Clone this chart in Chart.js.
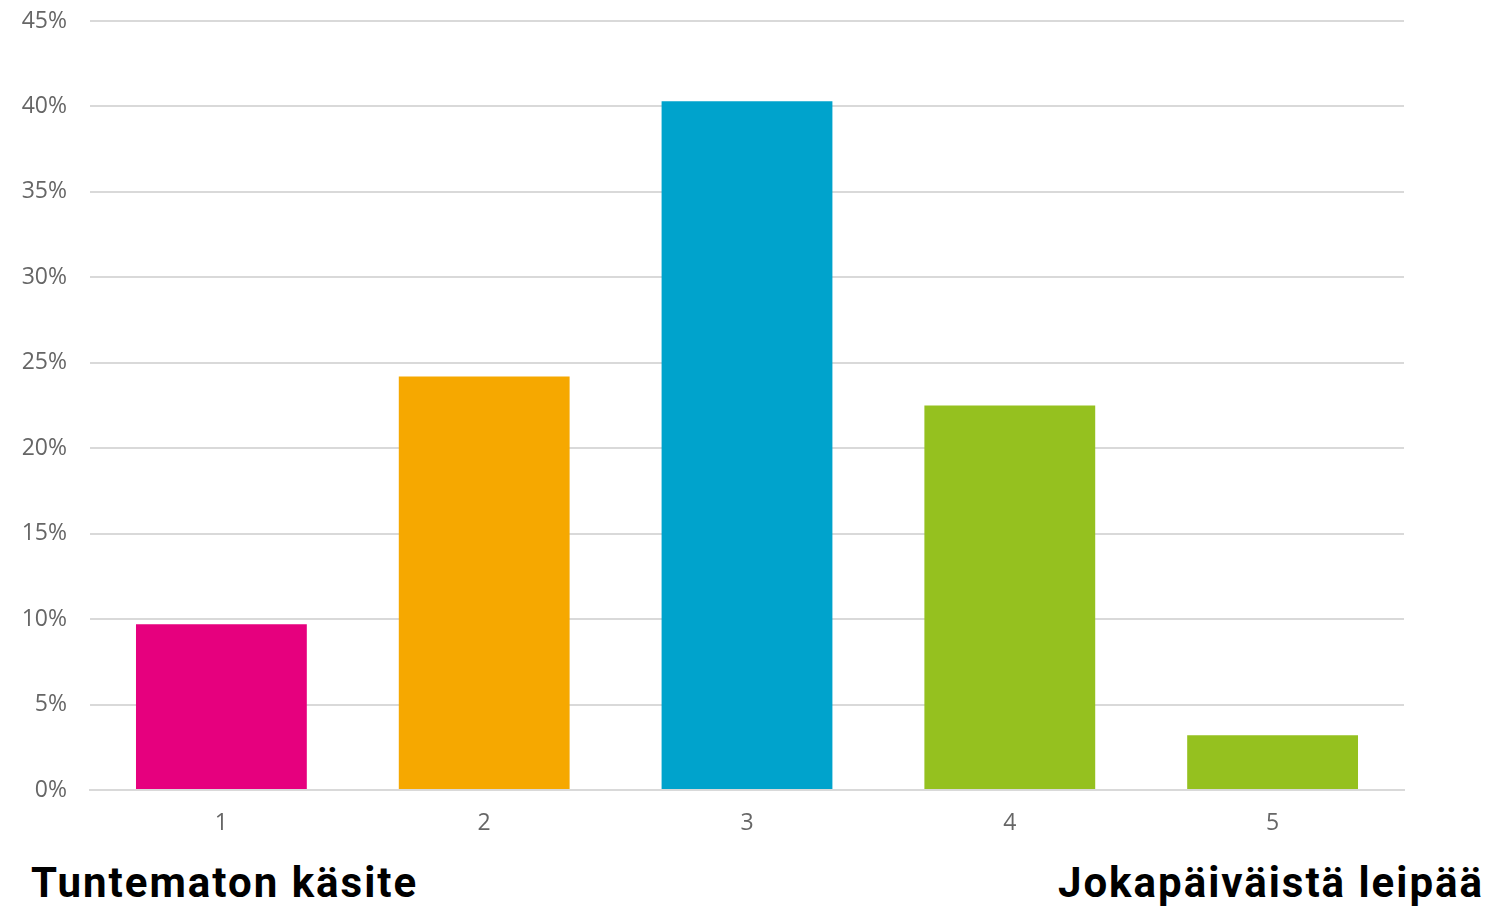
<!DOCTYPE html>
<html>
<head>
<meta charset="utf-8">
<script src="https://cdn.jsdelivr.net/npm/chart.js@4"></script>
<style>
  html, body { margin: 0; padding: 0; background: #fff; }
  #wrap { position: relative; width: 1488px; height: 906px; }
  #chart { position: absolute; left: 0; top: 0; }
  .end { position: absolute; top: 858px; font-family: Roboto, sans-serif; font-weight: 700; font-size: 42px; letter-spacing: 2px; color: #000; white-space: nowrap; }
  #left { left: 31px; }
  #right { right: 4px; }
</style>
</head>
<body>
<div id="wrap">
  <canvas id="chart" width="1488" height="850"></canvas>
  <div class="end" id="left">Tuntematon käsite</div>
  <div class="end" id="right">Jokapäiväistä leipää</div>
</div>
<script>
// scale 1..5, share of answers (%)
const categories = ["1", "2", "3", "4", "5"];
const shares = [9.7, 24.2, 40.3, 22.5, 3.2];
const barColors = ["#E6007E", "#F6A800", "#00A3CC", "#95C11F", "#95C11F"];
const yTicks = [0, 5, 10, 15, 20, 25, 30, 35, 40, 45];

const tickFont = { family: "Open Sans", size: 23, weight: 400 };

new Chart(document.getElementById("chart"), {
  type: "bar",
  data: {
    labels: categories,
    datasets: [{
      data: shares,
      backgroundColor: barColors,
      barPercentage: 0.65,
      categoryPercentage: 1
    }]
  },
  options: {
    responsive: false,
    animation: false,
    layout: { padding: { top: 21, right: 84, left: 0, bottom: 0 } },
    plugins: {
      legend: { display: false },
      tooltip: { enabled: false }
    },
    scales: {
      x: {
        grid: { display: false, drawTicks: false },
        border: { display: true, color: "#d9d9d9", width: 2 },
        ticks: { color: "#666", font: tickFont, padding: 20 },
        afterFit: s => { s.height = 60; }
      },
      y: {
        min: 0,
        max: 45,
        afterBuildTicks: s => { s.ticks = yTicks.map(v => ({ value: v })); },
        grid: { color: "#d9d9d9", lineWidth: 2, drawTicks: false },
        border: { display: false },
        ticks: { color: "#666", font: tickFont, padding: 23, callback: v => v + "%" },
        afterFit: s => {
          s.width = 90;
          s.paddingTop = 0;
          s.paddingBottom = 0;
        }
      }
    }
  }
});
</script>
</body>
</html>
